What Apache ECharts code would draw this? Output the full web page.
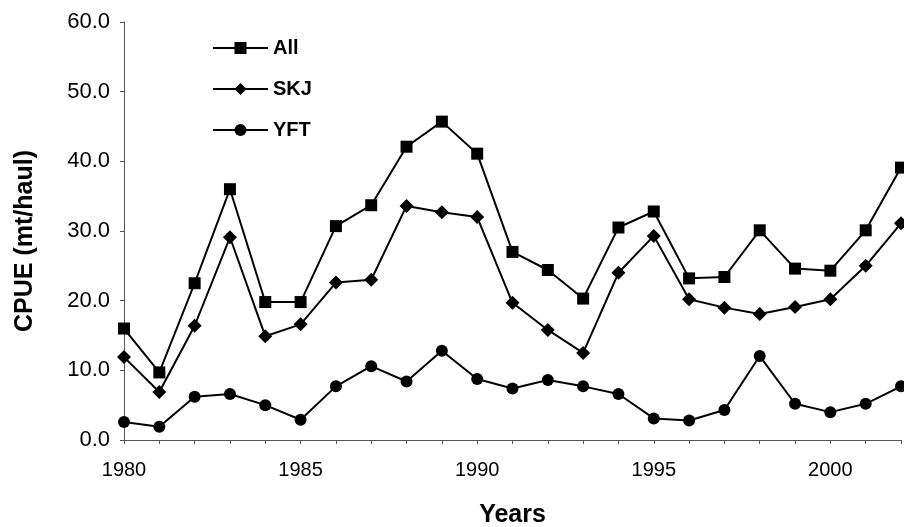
<!DOCTYPE html>
<html>
<head>
<meta charset="utf-8">
<script src="https://cdn.jsdelivr.net/npm/echarts@6/dist/echarts.min.js"></script>
<style>
html,body{margin:0;padding:0;background:#fff;}
#chart{width:904px;height:527px;}
</style>
</head>
<body>
<div id="chart"></div>
<script>
const years = [1980,1981,1982,1983,1984,1985,1986,1987,1988,1989,1990,1991,1992,1993,1994,1995,1996,1997,1998,1999,2000,2001,2002];
const allCPUE = [16.0,9.7,22.5,36.0,19.8,19.8,30.7,33.7,42.1,45.7,41.1,27.0,24.4,20.3,30.5,32.8,23.2,23.4,30.1,24.6,24.3,30.1,39.1];
const skjCPUE = [11.9,6.9,16.4,29.1,14.9,16.6,22.6,23.0,33.6,32.7,32.0,19.7,15.8,12.5,24.0,29.3,20.2,19.0,18.1,19.1,20.2,25.0,31.1];
const yftCPUE = [2.6,1.9,6.2,6.6,5.0,2.9,7.7,10.6,8.4,12.8,8.75,7.4,8.6,7.7,6.6,3.1,2.8,4.3,12.05,5.2,4.0,5.2,7.7];
const seriesNames = ['All','SKJ','YFT'];
const yTicks = [0,10,20,30,40,50,60];

const font = 'Arial, "Liberation Sans", sans-serif';
function pairs(vals){ return years.map((y,i)=>[y,vals[i]]); }
function mk(name, vals, symbol, size){
  return {
    name: name, type:'line', data: pairs(vals),
    symbol: symbol, symbolSize: size,
    lineStyle:{color:'#000', width:2},
    itemStyle:{color:'#000'},
    emphasis:{disabled:true},
    animation:false
  };
}
const chart = echarts.init(document.getElementById('chart'), null, {renderer:'canvas'});
chart.setOption({
  backgroundColor:'#fff',
  animation:false,
  grid:{left:124, right:3, top:22, bottom:87, containLabel:false, outerBoundsMode:'none'},
  legend:{
    orient:'vertical', left:207, top:33,
    itemWidth:55, itemHeight:15, itemGap:21,
    textStyle:{fontFamily:font, fontSize:20, fontWeight:'bold', color:'#000'},
    data: seriesNames
  },
  xAxis:{
    type:'value', min:1980, max:2002, interval:1,
    name:'Years', nameLocation:'middle', nameGap:63,
    nameTextStyle:{fontFamily:font, fontSize:25, fontWeight:'bold', color:'#000'},
    axisLine:{show:true, lineStyle:{color:'#555', width:1}},
    axisTick:{show:true, inside:false, length:4, lineStyle:{color:'#555'}},
    axisLabel:{fontFamily:font, fontSize:20, color:'#000', margin:20,
      formatter:function(v){ return v%5===0 ? String(v) : ''; }},
    splitLine:{show:false}
  },
  yAxis:{
    type:'value', min:yTicks[0], max:yTicks[yTicks.length-1], interval:10,
    name:'CPUE (mt/haul)', nameLocation:'middle', nameGap:86, nameRotate:90,
    nameTextStyle:{fontFamily:font, fontSize:25, fontWeight:'bold', color:'#000', padding:[0,20,0,0]},
    axisLine:{show:true, lineStyle:{color:'#555', width:1}},
    axisTick:{show:true, inside:false, length:4, lineStyle:{color:'#555'}},
    axisLabel:{fontFamily:font, fontSize:22, color:'#000', margin:14,
      formatter:function(v){ return v.toFixed(1); }},
    splitLine:{show:false}
  },
  series:[
    mk('All', allCPUE, 'rect', 12),
    mk('SKJ', skjCPUE, 'diamond', 14),
    mk('YFT', yftCPUE, 'circle', 12)
  ]
});
</script>
</body>
</html>
